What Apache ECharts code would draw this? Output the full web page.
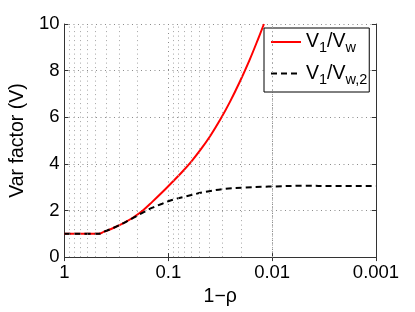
<!DOCTYPE html>
<html>
<head>
<meta charset="utf-8">
<script src="https://cdn.jsdelivr.net/npm/echarts@6/dist/echarts.min.js"></script>
<style>
html,body{margin:0;padding:0;background:#fff;}
#c{width:415px;height:312px;}
</style>
</head>
<body>
<div id="c"></div>
<script>
// ---- data ----
const seriesNames = ['V1/Vw', 'V1/Vw,2'];
// x values are (1 - rho)
const redX = [1, 0.469, 0.415, 0.335, 0.27, 0.218, 0.176, 0.142, 0.1145, 0.0924, 0.0745, 0.0601, 0.0485, 0.0392, 0.0316, 0.0255, 0.0206, 0.0166, 0.0134, 0.012];
const redY = [1, 1, 1.09, 1.26, 1.46, 1.70, 2.0, 2.38, 2.78, 3.2, 3.63, 4.1, 4.63, 5.22, 5.9, 6.66, 7.5, 8.43, 9.45, 10];
const blackX = [1, 0.469, 0.415, 0.335, 0.27, 0.218, 0.176, 0.142, 0.1145, 0.0924, 0.067, 0.0437, 0.0284, 0.0185, 0.012, 0.0098, 0.00514, 0.0025, 0.001];
const blackY = [1, 1, 1.09, 1.26, 1.46, 1.68, 1.91, 2.12, 2.29, 2.45, 2.61, 2.80, 2.93, 2.98, 3.02, 3.03, 3.06, 3.05, 3.05];
const xTickValues = [1, 0.1, 0.01, 0.001];
const xTickLabels = ['1', '0.1', '0.01', '0.001'];
const minorGridX = [0.9, 0.8, 0.7, 0.6, 0.5, 0.4, 0.3, 0.2,
                    0.09, 0.08, 0.07, 0.06, 0.05, 0.04, 0.03, 0.02,
                    0.009, 0.008, 0.007, 0.006, 0.005, 0.004, 0.003, 0.002];
const legendRich = {
  'V1/Vw': '{n|V}{s|1}{n|/V}{s|w}',
  'V1/Vw,2': '{n|V}{s|1}{n|/V}{s|w,2}'
};

const FONT = 'Liberation Sans, Arial, Helvetica, sans-serif';
const toPairs = (xs, ys) => xs.map((x, i) => [x, ys[i]]);

const chart = echarts.init(document.getElementById('c'), null, {renderer: 'canvas'});
const axisLineStyle = {color: '#333', width: 1};
const gridDot = {color: '#8a8a8a', width: 1, type: [1, 3.5]};

chart.setOption({
  animation: false,
  backgroundColor: '#fff',
  grid: {left: 54, right: 39, top: 24, bottom: 47, containLabel: false},
  xAxis: [{
    type: 'log', logBase: 10, min: 0.001, max: 1, inverse: true,
    name: '1\u2212\u03c1', nameLocation: 'middle', nameGap: 21,
    nameTextStyle: {fontSize: 19.5, color: '#000', fontFamily: FONT},
    axisLine: {show: true, lineStyle: axisLineStyle},
    axisTick: {show: true, inside: true, length: 4, lineStyle: axisLineStyle},
    axisLabel: {
      fontSize: 18.5, color: '#000', fontFamily: FONT, margin: 6,
      formatter: v => {
        const i = xTickValues.findIndex(t => Math.abs(Math.log10(t) - Math.log10(v)) < 1e-6);
        return i >= 0 ? xTickLabels[i] : '';
      }
    },
    splitLine: {show: true, lineStyle: gridDot}
  }, {
    type: 'log', logBase: 10, min: 0.001, max: 1, inverse: true, position: 'top',
    axisLine: {show: true, lineStyle: axisLineStyle},
    axisTick: {show: true, inside: true, length: 4, lineStyle: axisLineStyle},
    axisLabel: {show: false}, splitLine: {show: false}
  }],
  yAxis: [{
    type: 'value', min: 0, max: 10, interval: 2,
    name: 'Var factor (V)', nameLocation: 'middle', nameGap: 32,
    nameTextStyle: {fontSize: 19.5, color: '#000', fontFamily: FONT},
    axisLine: {show: true, lineStyle: axisLineStyle},
    axisTick: {show: true, inside: true, length: 4, lineStyle: axisLineStyle},
    axisLabel: {fontSize: 18.5, color: '#000', fontFamily: FONT, margin: 5},
    splitLine: {show: true, lineStyle: gridDot}
  }, {
    type: 'value', min: 0, max: 10, interval: 2, position: 'right',
    axisLine: {show: true, lineStyle: axisLineStyle},
    axisTick: {show: true, inside: true, length: 4, lineStyle: axisLineStyle},
    axisLabel: {show: false}, splitLine: {show: false}
  }],
  legend: {
    data: seriesNames,
    orient: 'vertical',
    left: 264, top: 28,
    padding: [4, 2, 5, 6],
    itemGap: 8,
    itemWidth: 30, itemHeight: 14,
    backgroundColor: '#fff',
    borderColor: '#000', borderWidth: 1,
    itemStyle: {opacity: 0},
    formatter: name => legendRich[name],
    textStyle: {
      color: '#000', fontFamily: FONT,
      rich: {
        n: {fontSize: 19.5, fontFamily: FONT, color: '#000'},
        s: {fontSize: 14.5, fontFamily: FONT, color: '#000', padding: [12, 0, 0, 0]}
      }
    }
  },
  series: [{
    name: 'minor-grid', type: 'line', data: [], silent: true, z: 1,
    markLine: {
      silent: true, symbol: ['none', 'none'], label: {show: false},
      lineStyle: {color: '#a5a5a5', width: 1, type: [1, 3.5]},
      emphasis: {disabled: true},
      data: minorGridX.map(v => ({xAxis: v}))
    }
  }, {
    name: seriesNames[0], type: 'line', data: toPairs(redX, redY),
    showSymbol: false, symbol: 'none', z: 3, smooth: 0.4,
    lineStyle: {color: '#ff0000', width: 2}, itemStyle: {color: '#ff0000'}
  }, {
    name: seriesNames[1], type: 'line', data: toPairs(blackX, blackY),
    showSymbol: false, symbol: 'none', z: 4, smooth: 0.35,
    lineStyle: {color: '#000', width: 2, type: [6, 4]}, itemStyle: {color: '#000'}
  }]
});
</script>
</body>
</html>
